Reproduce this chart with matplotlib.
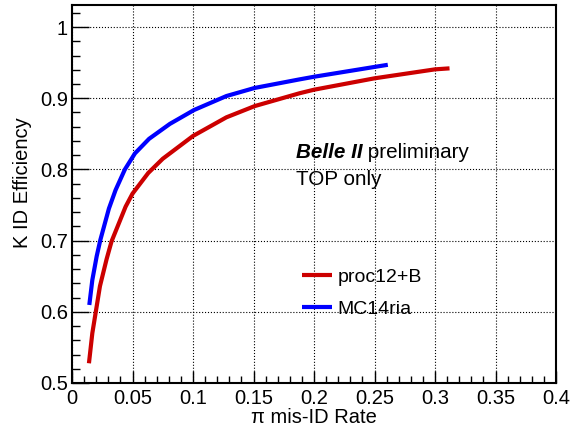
import matplotlib
matplotlib.use('Agg')
import matplotlib.pyplot as plt
from matplotlib.ticker import MultipleLocator

plt.rcParams['font.family'] = ['Liberation Sans', 'DejaVu Sans']

# pion mis-ID rate vs kaon ID efficiency
red_x = [0.014, 0.0168, 0.0196, 0.0231, 0.0286, 0.0327, 0.0443, 0.05, 0.063, 0.075,
         0.1, 0.1276, 0.151, 0.188, 0.2, 0.25, 0.3, 0.312]
red_y = [0.5277, 0.570, 0.5993, 0.636, 0.674, 0.699, 0.7477, 0.766, 0.795, 0.815,
         0.847, 0.8732, 0.889, 0.907, 0.912, 0.928, 0.9406, 0.942]
blue_x = [0.0143, 0.0168, 0.0204, 0.0234, 0.0305, 0.036, 0.0437, 0.052, 0.0637, 0.0809,
          0.1009, 0.1276, 0.151, 0.188, 0.2, 0.25, 0.261]
blue_y = [0.6096, 0.6447, 0.678, 0.7008, 0.745, 0.771, 0.800, 0.8225, 0.843, 0.864,
          0.8835, 0.9031, 0.9145, 0.9265, 0.9302, 0.944, 0.947]
labels = ['proc12+B', 'MC14ria']

fig = plt.figure(figsize=(5.7, 4.32), dpi=100)
ax = fig.add_axes([72 / 570, 49 / 432, 484 / 570, 378 / 432])

ax.plot(red_x, red_y, color='#cc0000', lw=3, solid_capstyle='butt', solid_joinstyle='round', label=labels[0])
ax.plot(blue_x, blue_y, color='#0000ff', lw=3, solid_capstyle='butt', solid_joinstyle='round', label=labels[1])

ax.set_xlim(0, 0.4)
ax.set_ylim(0.5, 1.031)
ax.xaxis.set_minor_locator(MultipleLocator(0.01))
ax.yaxis.set_minor_locator(MultipleLocator(0.02))
ax.set_xticks([0, 0.05, 0.1, 0.15, 0.2, 0.25, 0.3, 0.35, 0.4])
ax.set_xticklabels(['0', '0.05', '0.1', '0.15', '0.2', '0.25', '0.3', '0.35', '0.4'])
ax.set_yticks([0.5, 0.6, 0.7, 0.8, 0.9, 1.0])
ax.set_yticklabels(['0.5', '0.6', '0.7', '0.8', '0.9', '1'])

ax.tick_params(which='both', direction='in', top=False, right=False, labelsize=14.5, width=1)
ax.tick_params(axis='x', which='major', length=9, pad=4)
ax.tick_params(axis='x', which='minor', length=5)
ax.tick_params(axis='y', which='major', length=12, pad=3)
ax.tick_params(axis='y', which='minor', length=6)
for s in ax.spines.values():
    s.set_linewidth(1.5)

ax.grid(True, which='major', color='black', linestyle=':', linewidth=0.8)

ax.set_xlabel('π mis-ID Rate', fontsize=14.5, labelpad=0)
ax.set_ylabel('K ID Efficiency', fontsize=14.5)
ax.yaxis.set_label_coords(-0.083, 0.53)

t1 = ax.text(0.185, 0.816, 'Belle II', fontsize=14.9, fontweight='bold', fontstyle='italic')
ax.annotate(' preliminary', xy=(1, 0), xycoords=t1, va='bottom', fontsize=14.9)
ax.text(0.185, 0.778, 'TOP only', fontsize=14.9)

ax.legend(frameon=False, loc='upper left', bbox_to_anchor=(0.475, 0.304), fontsize=14,
          handlelength=1.55, handletextpad=0.3, labelspacing=0.73, borderaxespad=0, borderpad=0)

fig.savefig('out.png', dpi=100)
